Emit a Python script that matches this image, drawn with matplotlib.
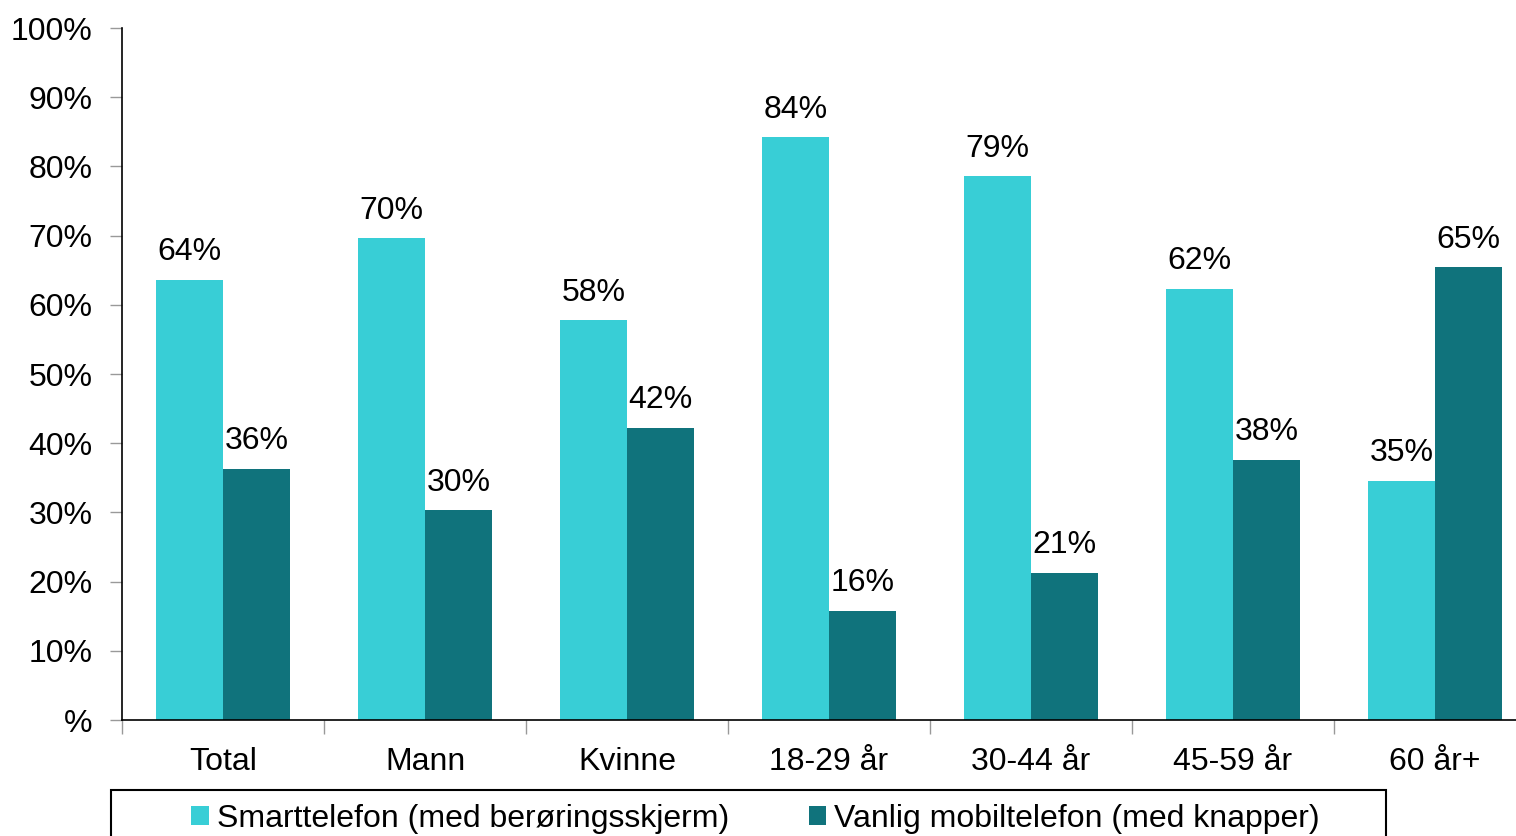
import numpy as np
import matplotlib.pyplot as plt
from matplotlib.patches import Rectangle

plt.rcParams['font.family'] = ['Liberation Sans', 'DejaVu Sans']

categories = ['Total', 'Mann', 'Kvinne', '18-29 år', '30-44 år', '45-59 år', '60 år+']
smart = [63.6, 69.6, 57.8, 84.2, 78.6, 62.3, 34.6]
vanlig = [36.3, 30.3, 42.2, 15.8, 21.3, 37.6, 65.4]
series_names = ['Smarttelefon (med berøringsskjerm)', 'Vanlig mobiltelefon (med knapper)']
ytick_vals = [0, 10, 20, 30, 40, 50, 60, 70, 80, 90, 100]
ytick_labels = ['%', '10%', '20%', '30%', '40%', '50%', '60%', '70%', '80%', '90%', '100%']

c_smart = '#38CED6'
c_vanlig = '#10737C'
fs = 23

W, H = 1516, 836
fig = plt.figure(figsize=(W / 100, H / 100), dpi=100)
ax = fig.add_axes([122 / W, 1 - 720 / H, (1536 - 122) / W, (720 - 28) / H])

x = np.arange(len(categories))
w = 1 / 3
b1 = ax.bar(x - w / 2, smart, w, color=c_smart, label=series_names[0])
b2 = ax.bar(x + w / 2, vanlig, w, color=c_vanlig, label=series_names[1])
for bars, vals in ((b1, smart), (b2, vanlig)):
    ax.bar_label(bars, labels=['%d%%' % round(v) for v in vals], padding=9, fontsize=fs)

ax.set_xlim(-0.5, len(categories) - 0.5)
ax.set_ylim(0, 100)
ax.set_yticks(ytick_vals)
ax.set_yticklabels(ytick_labels, fontsize=fs)
ax.tick_params(axis='y', direction='out', length=9, width=1, color='#999999', pad=12)

ax.set_xticks(np.arange(len(categories) + 1) - 0.5)
ax.set_xticklabels([])
ax.tick_params(axis='x', which='major', direction='out', length=10, width=1, color='#999999')
ax.set_xticks(x, minor=True)
ax.set_xticklabels(categories, minor=True, fontsize=fs)
ax.tick_params(axis='x', which='minor', length=0, pad=19.5)

for s in ('top', 'right'):
    ax.spines[s].set_visible(False)
for s in ('left', 'bottom'):
    ax.spines[s].set_color('black')
    ax.spines[s].set_linewidth(1.2)

leg = fig.legend(handles=[b1, b2], loc='center left', bbox_to_anchor=(175 / W, 1 - 819 / H),
                 ncol=2, frameon=False, fontsize=fs, borderpad=0, handlelength=0.55,
                 handleheight=0.55, handletextpad=0.25, columnspacing=2.5)
fig.patches.append(Rectangle((111 / W, -0.05), (1386 - 111) / W, 0.05 + 1 - 790 / H,
                             transform=fig.transFigure, fill=False, edgecolor='black',
                             linewidth=1.5))

fig.savefig('out.png', dpi=100)
